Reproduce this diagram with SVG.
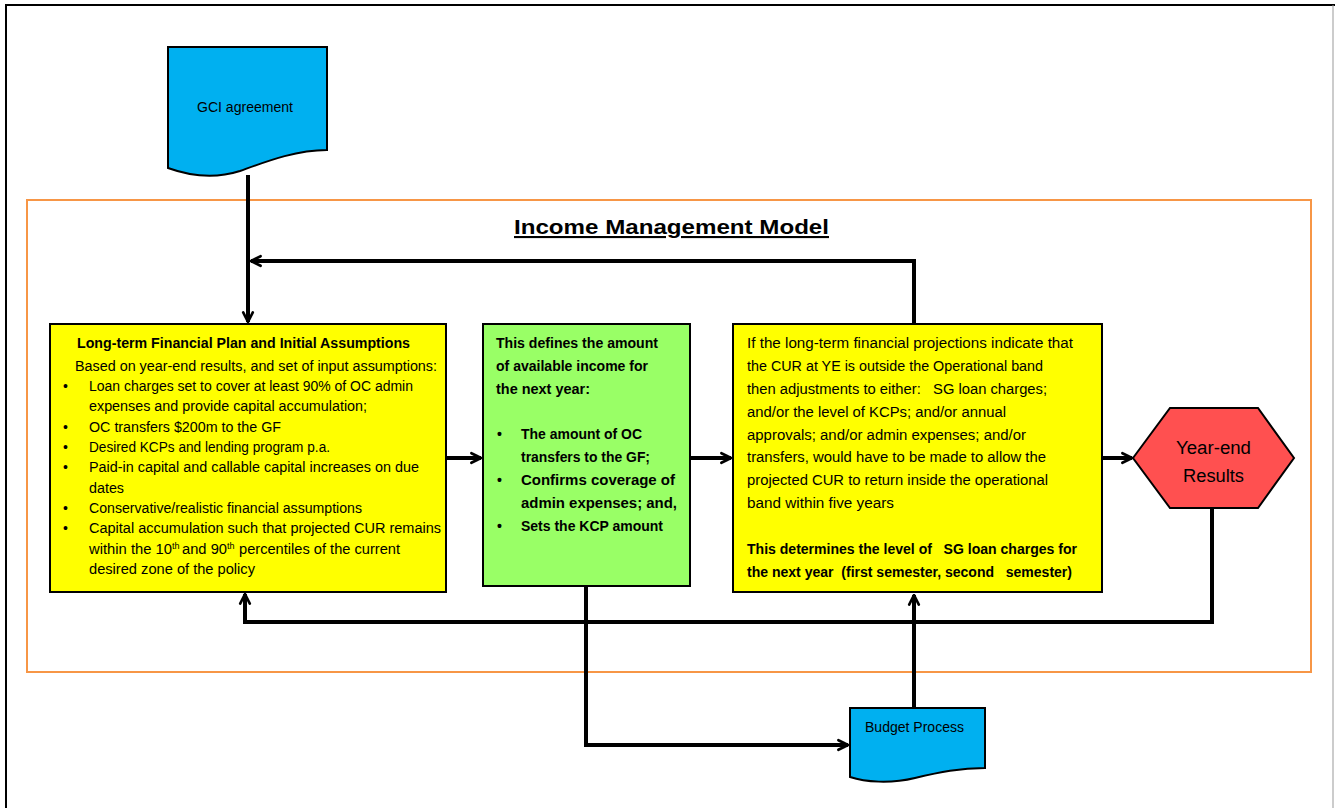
<svg xmlns="http://www.w3.org/2000/svg" width="1335" height="808" viewBox="0 0 1335 808">
<style>
.t{font-family:"Liberation Sans",Arial,sans-serif;font-size:14px;fill:#000}
.b{font-weight:bold}
.sup{font-size:9px}
.box{stroke:#000;stroke-width:2}
.conn{fill:none;stroke:#000;stroke-width:4;stroke-linejoin:miter}
</style>
<defs>
<marker id="arr" viewBox="0 0 10 10" refX="9" refY="5" markerUnits="userSpaceOnUse" markerWidth="12" markerHeight="15" orient="auto">
<path d="M1,1 L9,5 L1,9" fill="none" stroke="#000" stroke-width="2.2" stroke-linecap="round" stroke-linejoin="round"/>
</marker>
</defs>
<rect width="1335" height="808" fill="#fff"/>
<path d="M6,812 V5 H1335" fill="none" stroke="#000" stroke-width="2"/>
<line x1="1333" y1="5" x2="1333" y2="808" stroke="#999" stroke-width="1"/>
<rect x="27" y="200" width="1284" height="472" fill="none" stroke="#F79646" stroke-width="2"/>
<text class="t b" x="514" y="234" style="font-size:21px" text-decoration="underline" textLength="315" lengthAdjust="spacingAndGlyphs">Income Management Model</text>

<g id="connectors">
<line class="conn" x1="248" y1="175" x2="248" y2="322" stroke-width="3" marker-end="url(#arr)"/>
<polyline class="conn" points="914,324 914,261 251,261" marker-end="url(#arr)"/>
<line class="conn" x1="446" y1="458" x2="481" y2="458" marker-end="url(#arr)"/>
<line class="conn" x1="690" y1="458" x2="731" y2="458" marker-end="url(#arr)"/>
<line class="conn" x1="1102" y1="458" x2="1132" y2="458" marker-end="url(#arr)"/>
<polyline class="conn" points="1212,505 1212,622 245,622 245,594" marker-end="url(#arr)"/>
<polyline class="conn" points="586,586 586,745 848,745" marker-end="url(#arr)"/>
<line class="conn" x1="914" y1="707" x2="914" y2="595" marker-end="url(#arr)"/>
</g>

<g id="gci">
<path class="box" d="M168,47 H327 V150 C295,150 265,162 240,171 C215,179 190,176 168,168 Z" fill="#00B0F0"/>
<text class="t" x="197" y="112" textLength="96" lengthAdjust="spacingAndGlyphs">GCI agreement</text>
</g>

<g id="ltfp">
<rect class="box" x="50" y="324" width="396" height="268" fill="#FFFF00"/>
<text class="t b" x="77" y="348" textLength="333" lengthAdjust="spacingAndGlyphs">Long-term Financial Plan and Initial Assumptions</text>
<text class="t" x="75" y="371" textLength="362" lengthAdjust="spacingAndGlyphs">Based on year-end results, and set of input assumptions:</text>
<g class="t">
<text x="63" y="391">•</text><text x="89" y="391" textLength="324" lengthAdjust="spacingAndGlyphs">Loan charges set to cover at least 90% of OC admin</text>
<text x="89" y="411" textLength="278" lengthAdjust="spacingAndGlyphs">expenses and provide capital accumulation;</text>
<text x="63" y="432">•</text><text x="89" y="432" textLength="192" lengthAdjust="spacingAndGlyphs">OC transfers $200m to the GF</text>
<text x="63" y="452">•</text><text x="89" y="452" textLength="241" lengthAdjust="spacingAndGlyphs">Desired KCPs and lending program p.a.</text>
<text x="63" y="472">•</text><text x="89" y="472" textLength="330" lengthAdjust="spacingAndGlyphs">Paid-in capital and callable capital increases on due</text>
<text x="89" y="493" textLength="35" lengthAdjust="spacingAndGlyphs">dates</text>
<text x="63" y="513">•</text><text x="89" y="513" textLength="273" lengthAdjust="spacingAndGlyphs">Conservative/realistic financial assumptions</text>
<text x="63" y="533">•</text><text x="89" y="533" textLength="352" lengthAdjust="spacingAndGlyphs">Capital accumulation such that projected CUR remains</text>
<text x="89" y="554" textLength="83" lengthAdjust="spacingAndGlyphs">within the 10</text>
<text class="t sup" x="172" y="549">th</text>
<text x="182" y="554" textLength="45" lengthAdjust="spacingAndGlyphs">and 90</text>
<text class="t sup" x="227" y="549">th</text>
<text x="239" y="554" textLength="161" lengthAdjust="spacingAndGlyphs">percentiles of the current</text>
<text x="89" y="574" textLength="166" lengthAdjust="spacingAndGlyphs">desired zone of the policy</text>
</g>
</g>

<g id="income">
<rect class="box" x="483" y="324" width="207" height="262" fill="#99FF66"/>
<g class="t b">
<text x="496" y="348" textLength="162" lengthAdjust="spacingAndGlyphs">This defines the amount</text>
<text x="496" y="371" textLength="152" lengthAdjust="spacingAndGlyphs">of available income for</text>
<text x="496" y="394" textLength="94" lengthAdjust="spacingAndGlyphs">the next year:</text>
<text x="497" y="439">•</text><text x="521" y="439" textLength="121" lengthAdjust="spacingAndGlyphs">The amount of OC</text>
<text x="521" y="462" textLength="129" lengthAdjust="spacingAndGlyphs">transfers to the GF;</text>
<text x="497" y="485">•</text><text x="521" y="485" textLength="154" lengthAdjust="spacingAndGlyphs">Confirms coverage of</text>
<text x="521" y="508" textLength="156" lengthAdjust="spacingAndGlyphs">admin expenses; and,</text>
<text x="497" y="531">•</text><text x="521" y="531" textLength="142" lengthAdjust="spacingAndGlyphs">Sets the KCP amount</text>
</g>
</g>

<g id="adjust">
<rect class="box" x="733" y="324" width="369" height="268" fill="#FFFF00"/>
<g class="t">
<text x="747" y="348" textLength="326" lengthAdjust="spacingAndGlyphs">If the long-term financial projections indicate that</text>
<text x="747" y="371" textLength="296" lengthAdjust="spacingAndGlyphs">the CUR at YE is outside the Operational band</text>
<text x="747" y="394" textLength="300" lengthAdjust="spacingAndGlyphs" xml:space="preserve">then adjustments to either:   SG loan charges;</text>
<text x="747" y="417" textLength="259" lengthAdjust="spacingAndGlyphs">and/or the level of KCPs; and/or annual</text>
<text x="747" y="440" textLength="279" lengthAdjust="spacingAndGlyphs">approvals; and/or admin expenses; and/or</text>
<text x="747" y="462" textLength="299" lengthAdjust="spacingAndGlyphs">transfers, would have to be made to allow the</text>
<text x="747" y="485" textLength="301" lengthAdjust="spacingAndGlyphs">projected CUR to return inside the operational</text>
<text x="747" y="508" textLength="147" lengthAdjust="spacingAndGlyphs">band within five years</text>
<text class="b" x="747" y="554" textLength="330" lengthAdjust="spacingAndGlyphs" xml:space="preserve">This determines the level of   SG loan charges for</text>
<text class="b" x="747" y="577" textLength="325" lengthAdjust="spacingAndGlyphs" xml:space="preserve">the next year  (first semester, second   semester)</text>
</g>
</g>

<g id="yearend">
<polygon class="box" points="1133,458 1170,408 1258,408 1294,458 1258,508 1170,508" fill="#FF5050"/>
<text class="t" x="1176" y="454" style="font-size:18px" textLength="75" lengthAdjust="spacingAndGlyphs">Year-end</text>
<text class="t" x="1183" y="482" style="font-size:18px" textLength="61" lengthAdjust="spacingAndGlyphs">Results</text>
</g>

<g id="budget">
<path class="box" d="M850,708 H985 V768 C960,768 940,772 915,778 C890,784 865,782 850,777 Z" fill="#00B0F0"/>
<text class="t" x="865" y="732" textLength="99" lengthAdjust="spacingAndGlyphs">Budget Process</text>
</g>
</svg>
